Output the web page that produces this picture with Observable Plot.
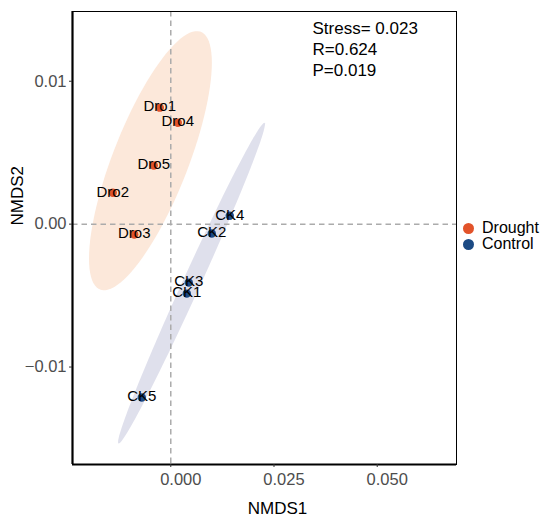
<!DOCTYPE html>
<html><head><meta charset="utf-8">
<script src="https://cdn.jsdelivr.net/npm/d3@7"></script>
<script src="https://cdn.jsdelivr.net/npm/@observablehq/plot@0.6"></script>
<style>
body{margin:0;background:#fff;font-family:"Liberation Sans",Arial,sans-serif;}
#wrap{position:relative;width:550px;height:518px;}
#legend{position:absolute;left:463px;top:220px;font-size:16px;line-height:16px;color:#000;}
#legend .item{display:flex;align-items:center;height:16px;}
#legend .sw{width:11px;height:11px;border-radius:50%;margin-right:8px;}
</style></head><body><div id="wrap"></div>
<script>
// ---- data ----
const samples = ["Dro1","Dro2","Dro3","Dro4","Dro5","CK1","CK2","CK3","CK4","CK5"];
const sampleGroup = ["Drought","Drought","Drought","Drought","Drought","Control","Control","Control","Control","Control"];
const nmds1 = [-0.00266,-0.01405,-0.00884,0.00170,-0.00412, 0.00388,0.00993,0.00436,0.01429,-0.00702];
const nmds2 = [ 0.00815, 0.00220,-0.00073,0.00710, 0.00410,-0.00486,-0.00066,-0.00409,0.00059,-0.01213];
const groupNames = ["Drought","Control"];
const groupColors = ["#E2532A","#1B4A84"];
const ellipseFills = ["#FCE8DA","#DFE0EC"];
const statLines = ["Stress= 0.023","R=0.624","P=0.019"];
const xTicks = [0, 0.025, 0.05];
const yTicks = [-0.01, 0, 0.01];
const xDomain = [-0.0238, 0.0692];
const yDomain = [-0.01682, 0.01488];
const ellipseLevel = 0.9;

const points = samples.map((s,i)=>({sample:s, group:sampleGroup[i], x:nmds1[i], y:nmds2[i]}));

// robust t covariance (like MASS::cov.trob) as used by ggplot2 stat_ellipse
function covTrob(pts, nu=5, maxit=25, tol=0.01){
  const n = pts.length;
  let loc = [d3.mean(pts,p=>p[0]), d3.mean(pts,p=>p[1])];
  let w = new Array(n).fill(1), X;
  for(let it=0; it<maxit; it++){
    const w0 = w.slice();
    X = pts.map(p=>[p[0]-loc[0], p[1]-loc[1]]);
    const sw = d3.sum(w);
    let a=0,b=0,c=0;
    X.forEach((v,i)=>{a+=w[i]*v[0]*v[0]; b+=w[i]*v[0]*v[1]; c+=w[i]*v[1]*v[1];});
    a/=sw; b/=sw; c/=sw;
    const det = a*c-b*b;
    const Q = X.map(v=>(c*v[0]*v[0]-2*b*v[0]*v[1]+a*v[1]*v[1])/det);
    w = Q.map(q=>(nu+2)/(nu+q));
    const sw2 = d3.sum(w);
    loc = [d3.sum(pts,(p,i)=>w[i]*p[0])/sw2, d3.sum(pts,(p,i)=>w[i]*p[1])/sw2];
    if(w.every((v,i)=>Math.abs(v-w0[i])<tol)) break;
  }
  let a=0,b=0,c=0;
  X.forEach((v,i)=>{a+=w[i]*v[0]*v[0]; b+=w[i]*v[0]*v[1]; c+=w[i]*v[1]*v[1];});
  return {center:loc, cov:[a/n,b/n,c/n]};
}
function ellipseFor(group){
  const pts = points.filter(d=>d.group===group).map(d=>[d.x,d.y]);
  const {center, cov} = covTrob(pts);
  const d = pts.length-1;
  const qf = (d/2)*(Math.pow(1-ellipseLevel,-2/d)-1);
  const r = Math.sqrt(2*qf);
  const A = Math.sqrt(cov[0]), B = cov[1]/A, C = Math.sqrt(cov[2]-B*B);
  return d3.range(0,101).map(k=>{
    const t = 2*Math.PI*k/100, ct=Math.cos(t), st=Math.sin(t);
    return {group, x:center[0]+r*ct*A, y:center[1]+r*(ct*B+st*C)};
  });
}

const fx3 = d3.format(".3f"), fy2 = d3.format(".2f");
const ML=72, MR=94, MT=11, MB=54;

const plot = Plot.plot({
  width:550, height:518,
  marginLeft:ML, marginRight:MR, marginTop:MT, marginBottom:MB,
  style:{fontFamily:"Liberation Sans, Arial, sans-serif", fontSize:"16.5px", background:"#fff", overflow:"visible"},
  x:{domain:xDomain},
  y:{domain:yDomain},
  color:{domain:groupNames, range:groupColors},
  marks:[
    ...groupNames.map((g,i)=>Plot.line(ellipseFor(g), {x:"x", y:"y", fill:ellipseFills[i], stroke:null, curve:"linear-closed"})),
    Plot.ruleX([0], {stroke:"#ABABAB", strokeWidth:1.5, strokeDasharray:"5.5,4"}),
    Plot.ruleY([0], {stroke:"#ABABAB", strokeWidth:1.5, strokeDasharray:"5.5,4"}),
    Plot.dot(points, {x:"x", y:"y", fill:"group", r:4.2}),
    Plot.text(points, {x:"x", y:"y", text:"sample", fill:"#000", fontSize:15, dy:-1}),
    Plot.frame({stroke:"#000", strokeWidth:1}),
    Plot.ruleX([xDomain[0]], {stroke:"#000", strokeWidth:2.2}),
    Plot.ruleY([yDomain[0]], {stroke:"#000", strokeWidth:2.2}),
    Plot.axisX({ticks:xTicks, tickFormat:()=>"", tickSize:3, stroke:"#333", label:null}),
    Plot.text(xTicks, {x:d=>d, text:d=>fx3(d), frameAnchor:"bottom", lineAnchor:"top", dy:9, dx:10, fill:"#4D4D4D", fontSize:16.5}),
    Plot.axisY({ticks:yTicks, tickFormat:d=>fy2(d), tickSize:3, tickPadding:3, stroke:"#333", fill:"#4D4D4D", fontSize:16.5, label:null}),
    Plot.text(["NMDS1"], {frameAnchor:"bottom", lineAnchor:"top", dy:37, dx:13, fill:"#000", fontSize:17}),
    Plot.text(["NMDS2"], {frameAnchor:"left", rotate:-90, dx:-55, dy:-12.5, fill:"#000", fontSize:17}),
    Plot.text([statLines.join("\n")], {frameAnchor:"top-left", textAnchor:"start", lineAnchor:"top", dx:240, dy:8, lineHeight:1.22, fill:"#000", fontSize:17})
  ]
});
const wrap = document.getElementById("wrap");
wrap.appendChild(plot);
const legend = document.createElement("div");
legend.id = "legend";
groupNames.forEach((g,i)=>{
  const it = document.createElement("div"); it.className="item";
  const sw = document.createElement("span"); sw.className="sw"; sw.style.background=groupColors[i];
  const tx = document.createElement("span"); tx.textContent=g;
  it.appendChild(sw); it.appendChild(tx); legend.appendChild(it);
});
wrap.appendChild(legend);
</script>
</body></html>
